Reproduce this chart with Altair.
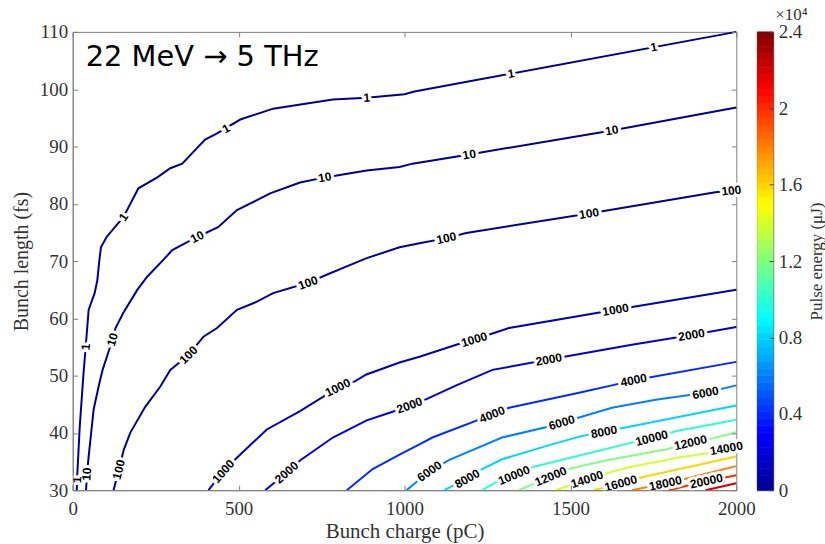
import math
import altair as alt
import pandas as pd

# ---------------- data ----------------
levels = [1, 10, 100, 1000, 2000, 4000, 6000, 8000, 10000, 12000, 14000, 16000, 18000, 20000, 22000]

c1_x = [12, 14, 21, 32, 39, 48, 66, 74, 80, 85, 102, 153, 198, 255, 294, 330, 363, 399, 435, 505, 604, 706, 784, 886, 1000, 1030, 2000]
c1_y = [30, 33, 41, 50, 55, 61.5, 64.4, 66.6, 70, 72.4, 74.2, 77.7, 82.7, 84.6, 86.2, 87.0, 89.0, 91.2, 92.3, 94.7, 96.6, 97.5, 98.2, 98.5, 99.1, 99.6, 110]

c10_x = [40, 44, 48, 63, 78, 90, 120, 129, 153, 195, 225, 273, 300, 375, 438, 495, 595, 685, 760, 886, 985, 1024, 1195, 1625, 2000]
c10_y = [30, 33.5, 35.9, 44.1, 48.1, 51.0, 56.3, 58.3, 61.0, 65.0, 67.3, 70.2, 71.9, 74.2, 75.9, 78.9, 81.8, 83.7, 84.6, 85.8, 86.4, 87.0, 88.6, 92.8, 96.8]

c100_x = [123, 139, 154, 174, 219, 264, 294, 349, 394, 435, 495, 555, 604, 709, 765, 835, 886, 985, 1045, 1126, 1186, 1556, 1937, 2000]
c100_y = [30, 33.6, 37.1, 40.1, 44.6, 48.1, 51.0, 53.6, 56.8, 58.3, 61.5, 62.9, 64.4, 66.2, 67.6, 69.3, 70.5, 72.4, 73.1, 74.0, 74.9, 78.3, 82.0, 82.4]

c1000_x = [409, 454, 490, 585, 685, 799, 850, 885, 985, 1045, 1156, 1210, 1315, 1636, 2000]
c1000_y = [30, 33.3, 35.4, 40.6, 43.8, 47.9, 49.0, 50.2, 52.3, 53.3, 55.4, 56.3, 58.3, 61.5, 65.0]

c2000_x = [580, 645, 685, 784, 886, 964, 1015, 1066, 1156, 1265, 1435, 1685, 1865, 2000]
c2000_y = [30, 33.1, 35.2, 39.2, 42.2, 43.7, 44.8, 45.9, 48.3, 51.0, 52.8, 55.4, 57.1, 58.5]

c4000_x = [826, 904, 985, 1045, 1084, 1264, 1315, 1526, 1625, 1691, 2000]
c4000_y = [30, 33.7, 36.2, 38.0, 39.2, 43.2, 44.4, 47.0, 48.3, 49.2, 52.4]

c6000_x = [1006, 1075, 1135, 1294, 1426, 1474, 1526, 1625, 1757, 1907, 2000]
c6000_y = [30, 33.3, 35.3, 39.2, 41.0, 41.8, 42.7, 44.4, 45.8, 47.0, 48.3]

c8000_x = [1120, 1189, 1234, 1294, 1444, 1530, 1601, 1655, 2000]
c8000_y = [30, 32.1, 33.7, 35.4, 38.0, 39.4, 40.2, 40.8, 44.8]

c10000_x = [1234, 1276, 1330, 1384, 1530, 1685, 1745, 1817, 2000]
c10000_y = [30, 31.4, 32.6, 34.0, 36.1, 38.3, 39.1, 40.3, 42.3]

c12000_x = [1345, 1441, 1496, 1530, 1625, 1787, 1862, 1925, 2000]
c12000_y = [30, 32.4, 33.7, 34.2, 35.4, 37.1, 38.3, 39.0, 40.1]

c14000_x = [1456, 1550, 1600, 1676, 1826, 1907, 2000]
c14000_y = [30, 31.9, 32.8, 34.0, 35.7, 36.4, 37.4]

c16000_x = [1570, 1652, 1726, 2000]
c16000_y = [30, 31.2, 32.4, 35.9]

c18000_x = [1685, 1786, 1847, 2000]
c18000_y = [30, 31.2, 32.0, 34.2]

c20000_x = [1796, 1910, 1955, 2000]
c20000_y = [30, 31.6, 32.1, 32.6]

c22000_x = [1907, 2000]
c22000_y = [30, 31.2]

contours = {
    1: (c1_x, c1_y), 10: (c10_x, c10_y), 100: (c100_x, c100_y),
    1000: (c1000_x, c1000_y), 2000: (c2000_x, c2000_y), 4000: (c4000_x, c4000_y),
    6000: (c6000_x, c6000_y), 8000: (c8000_x, c8000_y), 10000: (c10000_x, c10000_y),
    12000: (c12000_x, c12000_y), 14000: (c14000_x, c14000_y), 16000: (c16000_x, c16000_y),
    18000: (c18000_x, c18000_y), 20000: (c20000_x, c20000_y), 22000: (c22000_x, c22000_y),
}

lab_level = [1, 1, 1, 1, 1, 1, 1,
             10, 10, 10, 10, 10, 10,
             100, 100, 100, 100, 100, 100,
             1000, 1000, 1000, 1000,
             2000, 2000, 2000, 2000,
             4000, 4000,
             6000, 6000, 6000,
             8000, 8000,
             10000, 10000,
             12000, 12000,
             14000, 14000,
             16000, 18000, 20000]
lab_x = [13, 39, 153, 462, 886, 1321, 1751,
         42, 120, 375, 760, 1195, 1625,
         139, 349, 709, 1126, 1556, 1985,
         454, 799, 1210, 1636,
         645, 1015, 1435, 1865,
         1264, 1691,
         1075, 1474, 1907,
         1189, 1601,
         1330, 1745,
         1441, 1862,
         1550, 1970,
         1652, 1786, 1910]
lab_y = [31.8, 55.0, 77.7, 93.1, 98.5, 102.7, 107.3,
         32.8, 56.3, 74.2, 84.6, 88.6, 92.8,
         33.6, 53.6, 66.2, 74.0, 78.3, 82.3,
         33.3, 47.9, 56.3, 61.5,
         33.1, 44.8, 52.8, 57.1,
         43.2, 49.2,
         33.3, 41.8, 47.0,
         32.0, 40.2,
         32.6, 39.1,
         32.4, 38.3,
         31.9, 37.3,
         31.2, 31.2, 31.6]

x_ticks = [0, 500, 1000, 1500, 2000]
y_ticks = [30, 40, 50, 60, 70, 80, 90, 100, 110]
cbar_ticks = [0, 4000, 8000, 12000, 16000, 20000, 24000]

# jet colour map (piecewise linear)
jet_stops = [0, 3000, 6000, 9000, 12000, 15000, 18000, 21000, 24000]
jet_colors = ["#000090", "#0000ff", "#0080ff", "#00ffff", "#80ff80",
              "#ffff00", "#ff8000", "#ff0000", "#800000"]

# ---------------- layout / style ----------------
W, H = 666, 460
CB_W = 16
GRAY = "#808080"
TXT = "#333333"
SERIF = "Liberation Serif"
SANS = "Liberation Sans"


def to_px(x, y):
    return x / 2000 * W, (110 - y) / 80 * H


def label_angle(lev, lx, ly):
    xs, ys = contours[lev]
    pts = [to_px(a, b) for a, b in zip(xs, ys)]
    cum = [0.0]
    for k in range(len(pts) - 1):
        cum.append(cum[-1] + math.dist(pts[k], pts[k + 1]))
    px, py = to_px(lx, ly)
    best = None
    for k in range(len(pts) - 1):
        (ax, ay), (bx, by) = pts[k], pts[k + 1]
        dx, dy = bx - ax, by - ay
        L2 = dx * dx + dy * dy
        t = 0.0 if L2 == 0 else max(0.0, min(1.0, ((px - ax) * dx + (py - ay) * dy) / L2))
        d = math.hypot(ax + t * dx - px, ay + t * dy - py)
        if best is None or d < best[0]:
            best = (d, cum[k] + t * math.sqrt(L2))
    s0 = best[1]

    def point_at(s):
        s = max(0.0, min(cum[-1], s))
        for k in range(len(pts) - 1):
            if cum[k + 1] >= s:
                seg = cum[k + 1] - cum[k]
                t = 0 if seg == 0 else (s - cum[k]) / seg
                return (pts[k][0] + t * (pts[k + 1][0] - pts[k][0]),
                        pts[k][1] + t * (pts[k + 1][1] - pts[k][1]))
        return pts[-1]

    p1, p2 = point_at(s0 - 12), point_at(s0 + 12)
    a = math.degrees(math.atan2(p2[1] - p1[1], p2[0] - p1[0]))
    if a > 90:
        a -= 180
    if a < -90:
        a += 180
    return a % 360


rows = []
for lev in levels:
    xs, ys = contours[lev]
    for i, (a, b) in enumerate(zip(xs, ys)):
        rows.append({"level": lev, "x": a, "y": b, "i": i})
lines_df = pd.DataFrame(rows)

lab_df = pd.DataFrame({
    "level": lab_level, "x": lab_x, "y": lab_y,
    "label": [str(v) for v in lab_level],
    "angle": [label_angle(l, a, b) for l, a, b in zip(lab_level, lab_x, lab_y)],
})

n_cb = 64
cb_df = pd.DataFrame({
    "lo": [i * 24000 / n_cb for i in range(n_cb)],
    "hi": [(i + 1) * 24000 / n_cb for i in range(n_cb)],
    "mid": [(i + 0.5) * 24000 / n_cb for i in range(n_cb)],
})

jet = alt.Scale(domain=jet_stops, range=jet_colors, interpolate="rgb")
xs_scale = alt.Scale(domain=[0, 2000], nice=False, zero=False)
ys_scale = alt.Scale(domain=[30, 110], nice=False, zero=False)

x_axis = alt.Axis(
    values=x_ticks, format="d", title="Bunch charge (pC)",
    grid=True, gridDash=[5, H - 10, 5, 2000], gridColor=GRAY, gridWidth=1,
    ticks=False, tickSize=0, domain=True, domainColor=GRAY, domainWidth=1,
    labelFont=SERIF, labelFontSize=19, labelColor=TXT, labelPadding=9, labelFlush=False,
    titleFont=SERIF, titleFontSize=21, titleFontWeight="normal", titleColor=TXT,
    titleBaseline="alphabetic", titleY=47, zindex=1,
)
y_axis = alt.Axis(
    values=y_ticks, format="d", title="Bunch length (fs)",
    grid=True, gridDash=[5, W - 10, 5, 2000], gridColor=GRAY, gridWidth=1,
    ticks=False, tickSize=0, domain=True, domainColor=GRAY, domainWidth=1,
    labelFont=SERIF, labelFontSize=19, labelColor=TXT, labelPadding=5,
    titleFont=SERIF, titleFontSize=20, titleFontWeight="normal", titleColor=TXT,
    titleAngle=270, titleAlign="center", titleBaseline="middle",
    titleX=-51, titleY=H / 2, zindex=1,
)

lines = alt.Chart(lines_df).mark_line(strokeWidth=2).encode(
    x=alt.X("x:Q", scale=xs_scale, axis=x_axis),
    y=alt.Y("y:Q", scale=ys_scale, axis=y_axis),
    color=alt.Color("level:Q", scale=jet, legend=None),
    detail="level:N",
    order="i:Q",
)

text_enc = dict(
    x=alt.X("x:Q", scale=xs_scale),
    y=alt.Y("y:Q", scale=ys_scale),
    text="label:N",
    angle=alt.Angle("angle:Q", scale=None),
)
halo = alt.Chart(lab_df).mark_text(
    font=SANS, fontSize=12, fontWeight="bold", color="white",
    stroke="white", strokeWidth=6, strokeJoin="round",
    align="center", baseline="middle",
).encode(**text_enc)
labels = alt.Chart(lab_df).mark_text(
    font=SANS, fontSize=12, fontWeight="bold", color="black",
    align="center", baseline="middle",
).encode(**text_enc)

main = alt.layer(lines, halo, labels).properties(
    width=W, height=H,
    title=alt.TitleParams(
        "22 MeV → 5 THz", anchor="start", frame="group", dx=13, offset=-72,
        baseline="alphabetic", font="DejaVu Sans", fontSize=29, fontWeight="normal", color="black",
    ),
)

cb_axis = alt.Axis(
    orient="right", values=cbar_ticks,
    labelExpr="format(datum.value / 10000, '~g')",
    grid=True, gridDash=[4, 100], gridColor="#444444", gridWidth=1,
    ticks=False, tickSize=0, domain=False,
    labelFont=SERIF, labelFontSize=19, labelColor=TXT, labelPadding=5,
    title="Pulse energy (μJ)", titleFont=SERIF, titleFontSize=17,
    titleFontWeight="normal", titleColor=TXT,
    titleAngle=270, titleAlign="center", titleBaseline="middle",
    titleX=43, titleY=H / 2, zindex=1,
)

cbar = alt.Chart(cb_df).mark_rect(strokeWidth=0.6).encode(
    y=alt.Y("lo:Q", scale=alt.Scale(domain=[0, 24000], nice=False, zero=False), axis=cb_axis),
    y2="hi:Q",
    color=alt.Color("mid:Q", scale=jet, legend=None),
    stroke=alt.Color("mid:Q", scale=jet, legend=None),
).properties(
    width=CB_W, height=H,
    view=alt.ViewBackground(stroke="#444444", strokeWidth=1),
    title=alt.TitleParams(
        "×10⁴", anchor="start", frame="group", dx=18, offset=-14,
        baseline="alphabetic", font=SERIF, fontSize=17, fontWeight="normal", color=TXT,
    ),
)

chart = alt.hconcat(main, cbar, spacing=21, bounds="flush").properties(
    padding={"left": 11, "top": 4, "right": 0, "bottom": 0},
    background="white",
).configure_view(stroke=GRAY, strokeWidth=1).resolve_scale(color="shared")

chart.save("out.html", embed_options={"renderer": "svg", "actions": False})
